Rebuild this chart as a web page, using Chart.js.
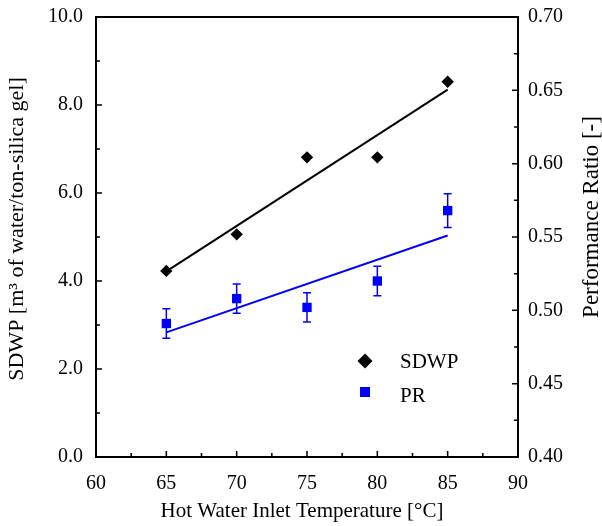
<!DOCTYPE html>
<html>
<head>
<meta charset="utf-8">
<script src="https://cdn.jsdelivr.net/npm/chart.js@4.4.0/dist/chart.umd.min.js"></script>
<style>
  html, body { margin: 0; padding: 0; background: #fff; }
</style>
</head>
<body>
<canvas id="myChart" width="602" height="526"></canvas>
<script>
// data
const temps = [65, 70, 75, 80, 85];
const sdwp = [4.23, 5.06, 6.81, 6.81, 8.53];
const pr = [0.491, 0.508, 0.502, 0.520, 0.568];
const prErr = [0.010, 0.010, 0.010, 0.010, 0.0115];
// trend line end points
const fitX = [65, 85];
const sdwpFit = [4.22, 8.35];
const prFit = [0.485, 0.551];

const xTitle = "Hot Water Inlet Temperature [°C]";
const yTitle = "SDWP [m³ of water/ton-silica gel]";
const y2Title = "Performance Ratio [-]";

const FONT = "'Liberation Serif', 'Times New Roman', serif";
const BLUE = "#0000ff";

const toPts = (xs, ys) => xs.map((x, i) => ({ x: x, y: ys[i] }));

// frame + inward ticks, error bars, legend, axis titles
const decor = {
  id: "decor",
  afterDatasetsDraw(chart) {
    const ctx = chart.ctx;
    const xs = chart.scales.x, yr = chart.scales.y2;

    // error bars on PR
    ctx.save();
    ctx.strokeStyle = BLUE;
    ctx.lineWidth = 1.5;
    pr.forEach((v, i) => {
      const px = xs.getPixelForValue(temps[i]);
      const top = yr.getPixelForValue(v + prErr[i]);
      const bot = yr.getPixelForValue(v - prErr[i]);
      ctx.beginPath();
      ctx.moveTo(px, top); ctx.lineTo(px, bot);
      ctx.moveTo(px - 4, top); ctx.lineTo(px + 4, top);
      ctx.moveTo(px - 4, bot); ctx.lineTo(px + 4, bot);
      ctx.stroke();
    });
    ctx.restore();
  },
  afterDraw(chart) {
    const ctx = chart.ctx;
    const a = chart.chartArea;
    const xs = chart.scales.x, yl = chart.scales.y, yr = chart.scales.y2;
    ctx.save();
    ctx.strokeStyle = "#000";
    ctx.lineWidth = 2;
    ctx.strokeRect(a.left, a.top, a.right - a.left, a.bottom - a.top);

    ctx.lineWidth = 1.5;
    ctx.beginPath();
    xs.ticks.forEach(t => {
      const p = xs.getPixelForValue(t.value);
      const len = t.label !== "" ? 6 : 4;
      ctx.moveTo(p, a.bottom); ctx.lineTo(p, a.bottom - len);
    });
    yl.ticks.forEach(t => {
      const p = yl.getPixelForValue(t.value);
      const len = t.label !== "" ? 6 : 4;
      ctx.moveTo(a.left, p); ctx.lineTo(a.left + len, p);
    });
    yr.ticks.forEach(t => {
      const p = yr.getPixelForValue(t.value);
      const len = t.label !== "" ? 6 : 4;
      ctx.moveTo(a.right, p); ctx.lineTo(a.right - len, p);
    });
    ctx.stroke();

    // legend
    const lx = 365, ly1 = 361, ly2 = 392;
    ctx.fillStyle = "#000";
    ctx.beginPath();
    ctx.moveTo(lx, ly1 - 7.5); ctx.lineTo(lx + 7.5, ly1); ctx.lineTo(lx, ly1 + 7.5); ctx.lineTo(lx - 7.5, ly1);
    ctx.closePath(); ctx.fill();
    ctx.fillStyle = BLUE;
    ctx.fillRect(lx - 5, ly2 - 5, 10, 10);
    ctx.fillStyle = "#000";
    ctx.font = "21px " + FONT;
    ctx.textBaseline = "alphabetic";
    ctx.textAlign = "left";
    ctx.fillText("SDWP", 400, ly1 + 7);
    ctx.fillText("PR", 400, ly2 + 10);

    // axis titles
    ctx.textAlign = "center";
    ctx.font = "21px " + FONT;
    ctx.fillText(xTitle, 302, 517);

    ctx.textBaseline = "middle";
    ctx.font = "22px " + FONT;
    ctx.save();
    ctx.translate(17, 229);
    ctx.rotate(-Math.PI / 2);
    ctx.fillText(yTitle, 0, 0);
    ctx.restore();

    ctx.font = "23px " + FONT;
    ctx.save();
    ctx.translate(592, 217);
    ctx.rotate(-Math.PI / 2);
    ctx.fillText(y2Title, 0, 0);
    ctx.restore();
    ctx.restore();
  }
};

const ctx = document.getElementById("myChart").getContext("2d");
const chart = new Chart(ctx, {
  type: "scatter",
  data: {
    datasets: [
      {
        label: "SDWP fit",
        data: toPts(fitX, sdwpFit),
        yAxisID: "y",
        showLine: true,
        borderColor: "#000",
        borderWidth: 2,
        pointRadius: 0
      },
      {
        label: "PR fit",
        data: toPts(fitX, prFit),
        yAxisID: "y2",
        showLine: true,
        borderColor: BLUE,
        borderWidth: 2,
        pointRadius: 0
      },
      {
        label: "SDWP",
        data: toPts(temps, sdwp),
        yAxisID: "y",
        pointStyle: "rectRot",
        pointRadius: 6.2,
        backgroundColor: "#000",
        borderColor: "#000",
        borderWidth: 0
      },
      {
        label: "PR",
        data: toPts(temps, pr),
        yAxisID: "y2",
        pointStyle: "rect",
        pointRadius: 6.6,
        backgroundColor: BLUE,
        borderColor: BLUE,
        borderWidth: 0
      }
    ]
  },
  options: {
    responsive: false,
    animation: false,
    layout: { padding: { top: 17, left: 0, right: 0, bottom: 0 } },
    plugins: { legend: { display: false }, tooltip: { enabled: false } },
    scales: {
      x: {
        type: "linear",
        min: 60, max: 90,
        grid: { display: false, drawTicks: false },
        border: { display: false },
        ticks: {
          stepSize: 2.5,
          autoSkip: false,
          maxRotation: 0,
          padding: 15,
          color: "#000",
          font: { family: FONT, size: 20 },
          callback: v => (v % 5 === 0 ? String(v) : "")
        },
        afterFit: s => { s.height = 69; s.paddingLeft = 0; s.paddingRight = 0; }
      },
      y: {
        type: "linear",
        position: "left",
        min: 0, max: 10,
        grid: { display: false, drawTicks: false },
        border: { display: false },
        ticks: {
          stepSize: 1,
          autoSkip: false,
          padding: 13,
          color: "#000",
          font: { family: FONT, size: 20 },
          callback: v => (v % 2 === 0 ? v.toFixed(1) : "")
        },
        afterFit: s => { s.width = 96; s.paddingTop = 0; s.paddingBottom = 0; }
      },
      y2: {
        type: "linear",
        position: "right",
        min: 0.4, max: 0.7,
        grid: { display: false, drawTicks: false },
        border: { display: false },
        ticks: {
          stepSize: 0.025,
          autoSkip: false,
          padding: 10,
          color: "#000",
          font: { family: FONT, size: 20 },
          callback: v => {
            const k = v / 0.05;
            return Math.abs(k - Math.round(k)) < 1e-6 ? v.toFixed(2) : "";
          }
        },
        afterFit: s => { s.width = 84; s.paddingTop = 0; s.paddingBottom = 0; }
      }
    }
  },
  plugins: [decor]
});
</script>
</body>
</html>
